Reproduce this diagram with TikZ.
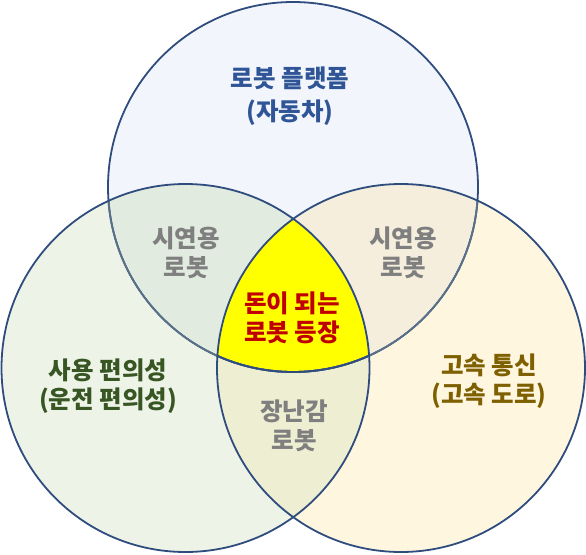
\documentclass[tikz,border=0pt]{standalone}
\usepackage{fontspec}
\setmainfont{Noto Sans CJK KR}
\definecolor{topfill}{HTML}{F2F6FC}
\definecolor{leftfill}{HTML}{EEF3E7}
\definecolor{rightfill}{HTML}{FFF6E0}
\definecolor{tlfill}{HTML}{E2EBE0}
\definecolor{trfill}{HTML}{F5EEDD}
\definecolor{lrfill}{HTML}{EEEED2}
\definecolor{midfill}{HTML}{FFFF00}
\definecolor{edge}{HTML}{2E4C7E}
\definecolor{edgesoft}{HTML}{587088}
\definecolor{txtblue}{HTML}{2F5597}
\definecolor{txtred}{HTML}{C00000}
\definecolor{txtgreen}{HTML}{375623}
\definecolor{txtbrown}{HTML}{7F6000}
\definecolor{txtgray}{HTML}{7F7F7F}
\tikzset{
  lbl/.style={align=center, inner sep=0pt, font=\bfseries\fontsize{24.5}{29}\selectfont},
  ring/.style={line width=1.8pt, draw=edge},
  softring/.style={line width=1.8pt, draw=edgesoft}
}
\begin{document}
\begin{tikzpicture}[x=1pt,y=-1pt]
\useasboundingbox (0,0) rectangle (586,554);
\def\T{(293,187) circle[radius=185pt]}
\def\L{(185.5,368) circle[radius=184pt]}
\def\R{(401,368) circle[radius=184pt]}
% region fills
\fill[topfill] \T;
\fill[leftfill] \L;
\fill[rightfill] \R;
\begin{scope}\clip \T; \fill[tlfill] \L; \end{scope}
\begin{scope}\clip \T; \fill[trfill] \R; \end{scope}
\begin{scope}\clip \L; \fill[lrfill] \R; \end{scope}
\begin{scope}\clip \T; \clip \L; \fill[midfill] \R; \end{scope}
% outlines
\draw[ring] \T;
\begin{scope}\clip \L; \draw[softring] \T; \end{scope}
\begin{scope}\clip \R; \draw[softring] \T; \end{scope}
\begin{scope}\clip \L; \clip \R; \draw[ring] \T; \end{scope}
\draw[ring] \L;
\draw[ring] \R;
% labels
\node[lbl, text=txtblue, font=\bfseries\fontsize{24.5}{33}\selectfont] (top) at (290,96) {로봇 플랫폼\\(자동차)};
\node[lbl, text=txtgray] (tl) at (186,253) {시연용\\로봇};
\node[lbl, text=txtgray] (tr) at (403,253) {시연용\\로봇};
\node[lbl, text=txtred] (mid) at (292,318) {돈이 되는\\로봇 등장};
\node[lbl, text=txtgreen] (left) at (108,386) {사용 편의성\\(운전 편의성)};
\node[lbl, text=txtbrown] (right) at (489,381) {고속 통신\\(고속 도로)};
\node[lbl, text=txtgray] (lr) at (294,426) {장난감\\로봇};
\end{tikzpicture}
\end{document}
